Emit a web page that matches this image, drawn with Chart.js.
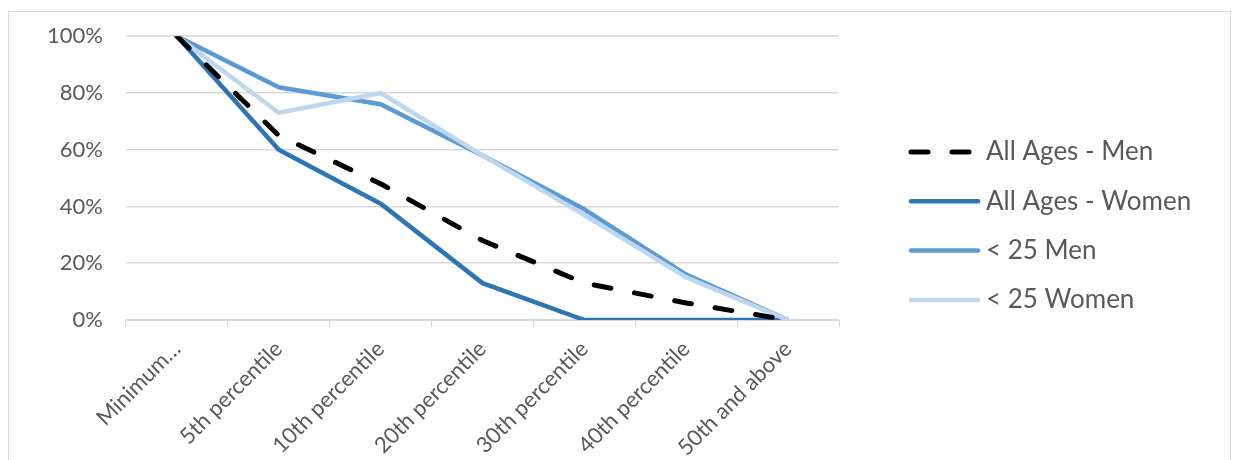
<!DOCTYPE html>
<html>
<head>
<meta charset="utf-8">
<script src="https://cdn.jsdelivr.net/npm/chart.js"></script>
<style>
  html, body { margin: 0; padding: 0; background: #fff; }
  #wrap { width: 1238px; height: 460px; }
</style>
</head>
<body>
<div id="wrap"><canvas id="lineChart"></canvas></div>
<script>
const categories = ["Minimum…", "5th percentile", "10th percentile", "20th percentile", "30th percentile", "40th percentile", "50th and above"];
const allMen = [100, 65, 48, 28, 13, 6, 0];
const allWomen = [100, 60, 41, 13, 0, 0, 0];
const youngMen = [100, 82, 76, 58, 39, 16, 0];
const youngWomen = [100, 73, 80, 58, 37, 15, 0];
const yTicks = [0, 20, 40, 60, 80, 100];

const FONT = "Lato";
const GREY = "#595959";

// legend drawn by hand to get Excel look (line samples + big text)
const sideLegend = {
    id: 'sideLegend',
    beforeDraw(chart) {
        const ctx = chart.ctx;
        ctx.save();
        ctx.strokeStyle = "#d9d9d9";
        ctx.lineWidth = 1;
        ctx.strokeRect(8.5, 11.5, 1222, 500);
        ctx.restore();
    },
    afterDraw(chart) {
        const ctx = chart.ctx;
        const ds = chart.data.datasets;
        ctx.save();
        ds.forEach((d, i) => {
            const y = 152 + i * 49.3;
            ctx.beginPath();
            ctx.strokeStyle = d.borderColor;
            ctx.lineWidth = d.borderWidth;
            ctx.lineCap = 'round';
            ctx.setLineDash(d.borderDash || []);
            ctx.moveTo(911, y);
            ctx.lineTo(978, y);
            ctx.stroke();
            ctx.setLineDash([]);
            ctx.fillStyle = GREY;
            ctx.font = "26px " + FONT;
            ctx.textBaseline = 'middle';
            ctx.textAlign = 'left';
            ctx.fillText(d.label, 986, y);
        });
        ctx.restore();
    }
};

new Chart(document.getElementById("lineChart"), {
    type: 'line',
    data: {
        labels: categories,
        datasets: [
            {
                label: "All Ages - Men",
                data: allMen,
                borderColor: "#000000",
                borderWidth: 5,
                borderDash: [17, 24],
                borderCapStyle: 'round',
                order: 0
            },
            {
                label: "All Ages - Women",
                data: allWomen,
                borderColor: "#2E75B6",
                borderWidth: 4.5,
                order: 3
            },
            {
                label: "< 25 Men",
                data: youngMen,
                borderColor: "#5B9BD5",
                borderWidth: 4.5,
                order: 2
            },
            {
                label: "< 25 Women",
                data: youngWomen,
                borderColor: "#BDD7EE",
                borderWidth: 4.5,
                order: 1
            }
        ]
    },
    options: {
        responsive: true,
        maintainAspectRatio: false,
        animation: false,
        elements: {
            point: { radius: 0, hoverRadius: 0 },
            line: { tension: 0, borderJoinStyle: 'round' }
        },
        layout: { padding: { left: 0, right: 399, top: 34, bottom: 0 } },
        plugins: {
            legend: { display: false },
            tooltip: { enabled: false }
        },
        scales: {
            x: {
                offset: true,
                grid: {
                    offset: true,
                    drawOnChartArea: false,
                    drawTicks: true,
                    tickLength: 7,
                    color: "#d9d9d9"
                },
                border: { color: "#d9d9d9" },
                ticks: {
                    color: GREY,
                    font: { family: FONT, size: 22 },
                    minRotation: 45,
                    maxRotation: 45,
                    padding: 9,
                    autoSkip: false
                },
                afterFit(s) { s.height = 140; }
            },
            y: {
                min: 0,
                max: 100,
                afterBuildTicks(s) { s.ticks = yTicks.map(v => ({ value: v })); },
                grid: { color: "#d9d9d9", drawTicks: false, lineWidth: 1.5 },
                border: { display: false },
                ticks: {
                    color: GREY,
                    font: { family: FONT, size: 22 },
                    padding: 23,
                    callback: v => v + "%"
                },
                afterFit(s) { s.width = 126; }
            }
        }
    },
    plugins: [sideLegend]
});
</script>
</body>
</html>
